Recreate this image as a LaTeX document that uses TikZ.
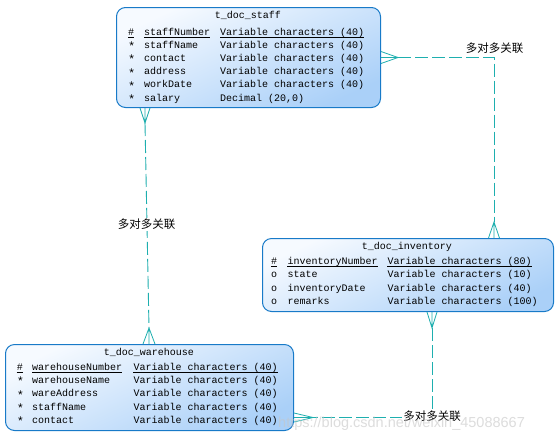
\documentclass[tikz,border=0pt]{standalone}
\usepackage{fontspec}
\setmonofont{Liberation Mono}
\newfontfamily\cjk{Noto Sans CJK SC}
\newfontfamily\wmfont{Liberation Sans}
\usetikzlibrary{calc}
\definecolor{boxborder}{RGB}{24,122,200}
\definecolor{boxlight}{RGB}{246,250,255}
\definecolor{boxdark}{RGB}{170,208,248}
\definecolor{rel}{RGB}{30,175,175}
\tikzset{
  entity/.style={draw=boxborder, line width=1pt, rounded corners=9pt, shading=axis,
    top color=boxlight, bottom color=boxdark, shading angle=25, anchor=north west,
    inner sep=0pt},
  ttl/.style={font=\ttfamily\fontsize{10}{12}\selectfont, inner sep=0pt, anchor=base},
  cell/.style={font=\ttfamily\fontsize{10}{12}\selectfont, inner sep=0pt, anchor=base west},
  uline/.style={draw=black, line width=0.6pt},
  relline/.style={draw=rel, line width=0.9pt, dash pattern=on 13pt off 4pt},
  crow/.style={draw=rel, line width=0.8pt},
  rlabel/.style={font=\cjk\fontsize{11.5}{12}\selectfont, inner sep=1pt},
}
\newcommand\mandmark{\raisebox{-2.4pt}{\fontsize{12}{12}\selectfont *}}
\newcommand\erow[5]{%
  \node[cell] (#1s) at (\symx,#2) {#3};
  \node[cell] (#1n) at (\namex,#2) {#4};
  \node[cell] (#1t) at (\typex,#2) {#5};}
\newcommand\keyline[1]{%
  \draw[uline] ([yshift=-1.8pt]#1s.base west) -- ([yshift=-1.8pt]#1s.base east);
  \draw[uline] ([yshift=-1.8pt]#1n.base west) -- ([yshift=-1.8pt]#1n.base east);
  \draw[uline] ([yshift=-1.8pt]#1t.base west) -- ([yshift=-1.8pt]#1t.base east);}
\begin{document}
\begin{tikzpicture}[x=1pt,y=-1pt]
\useasboundingbox (0,0) rectangle (559,440);
\fill[white] (0,0) rectangle (559,440);

% ---------- entity boxes ----------
\node[entity, minimum width=264pt, minimum height=100pt] (staff) at (116,7) {};
\node[entity, minimum width=291pt, minimum height=73pt] (inv) at (262,238) {};
\node[entity, minimum width=288pt, minimum height=86pt] (wh) at (5,344) {};

% ---------- t_doc_staff ----------
\node[ttl] (stitle) at (248,18.5) {t\_doc\_staff};
\def\symx{128}\def\namex{144}\def\typex{220}
\erow{sa}{35}{\#}{staffNumber}{Variable characters (40)}
\erow{sb}{48.2}{\mandmark}{staffName}{Variable characters (40)}
\erow{sc}{61.4}{\mandmark}{contact}{Variable characters (40)}
\erow{sd}{74.6}{\mandmark}{address}{Variable characters (40)}
\erow{se}{87.8}{\mandmark}{workDate}{Variable characters (40)}
\erow{sf}{101}{\mandmark}{salary}{Decimal (20,0)}
\keyline{sa}

% ---------- t_doc_inventory ----------
\node[ttl] (ititle) at (407,249.2) {t\_doc\_inventory};
\def\symx{271}\def\namex{287.3}\def\typex{387.3}
\erow{ia}{264.5}{\#}{inventoryNumber}{Variable characters (80)}
\erow{ib}{277.8}{o}{state}{Variable characters (10)}
\erow{ic}{291}{o}{inventoryDate}{Variable characters (40)}
\erow{id}{304.3}{o}{remarks}{Variable characters (100)}
\keyline{ia}

% ---------- t_doc_warehouse ----------
\node[ttl] (wtitle) at (149,355.2) {t\_doc\_warehouse};
\def\symx{16.7}\def\namex{32}\def\typex{133.3}
\erow{wa}{370.2}{\#}{warehouseNumber}{Variable characters (40)}
\erow{wb}{383.5}{\mandmark}{warehouseName}{Variable characters (40)}
\erow{wc}{396.8}{\mandmark}{wareAddress}{Variable characters (40)}
\erow{wd}{410.1}{\mandmark}{staffName}{Variable characters (40)}
\erow{we}{423.4}{\mandmark}{contact}{Variable characters (40)}
\keyline{wa}

% ---------- relation 1: staff -- warehouse ----------
\coordinate (r1a) at ($(staff.south west)+(29,0)$);
\coordinate (r1ap) at ($(r1a)+(0,15)$);
\coordinate (r1b) at ($(wh.north west)+(144,0)$);
\coordinate (r1bp) at ($(r1b)+(0,-16)$);
\draw[relline] (r1ap) -- (r1bp);
\draw[crow] ($(r1a)+(-5,0)$) -- (r1ap) -- ($(r1a)+(5,0)$) (r1a) -- (r1ap);
\draw[crow] ($(r1b)+(-6,0)$) -- (r1bp) -- ($(r1b)+(6,0)$) (r1b) -- (r1bp);
\node[rlabel, fill=white] (l1) at (146.5,224.5) {多对多关联};

% ---------- relation 2: staff -- inventory ----------
\coordinate (r2a) at (staff.east);
\coordinate (r2ap) at ($(r2a)+(17,0)$);
\coordinate (r2b) at ($(inv.north west)+(232,0)$);
\coordinate (r2bp) at ($(r2b)+(0,-16)$);
\coordinate (r2c) at (r2b |- r2a);
\draw[relline] (r2ap) -| (r2bp);
\draw[crow] ($(r2a)+(0,-6)$) -- (r2ap) -- ($(r2a)+(0,6)$) (r2a) -- (r2ap);
\draw[crow] ($(r2b)+(-5.5,0)$) -- (r2bp) -- ($(r2b)+(5.5,0)$) (r2b) -- (r2bp);
\node[rlabel] (l2) at ($(r2c)+(0.5,-9)$) {多对多关联};

% ---------- relation 3: inventory -- warehouse ----------
\coordinate (r3a) at ($(inv.south west)+(170,0)$);
\coordinate (r3ap) at ($(r3a)+(0,16)$);
\coordinate (r3b) at ($(wh.south east)+(0,-13.5)$);
\coordinate (r3bp) at ($(r3b)+(19,0)$);
\coordinate (r3c) at (r3a |- r3b);
\draw[relline] (r3ap) |- (r3bp);
\draw[crow] ($(r3a)+(-5,0)$) -- (r3ap) -- ($(r3a)+(5,0)$) (r3a) -- (r3ap);
\draw[crow] ($(r3b)+(0,-4.5)$) -- (r3bp) -- ($(r3b)+(0,4.5)$) (r3b) -- (r3bp);
\node[rlabel, fill=white] (l3) at ($(r3c)+(0,-1.5)$) {多对多关联};

% ---------- watermark ----------
\node[font=\wmfont\fontsize{14.5}{15}\selectfont, text=gray!45, opacity=0.6, inner sep=0pt, anchor=base west] (wm) at (278,427) {https://blog.csdn.net/weixin\_45088667};
\end{tikzpicture}
\end{document}
